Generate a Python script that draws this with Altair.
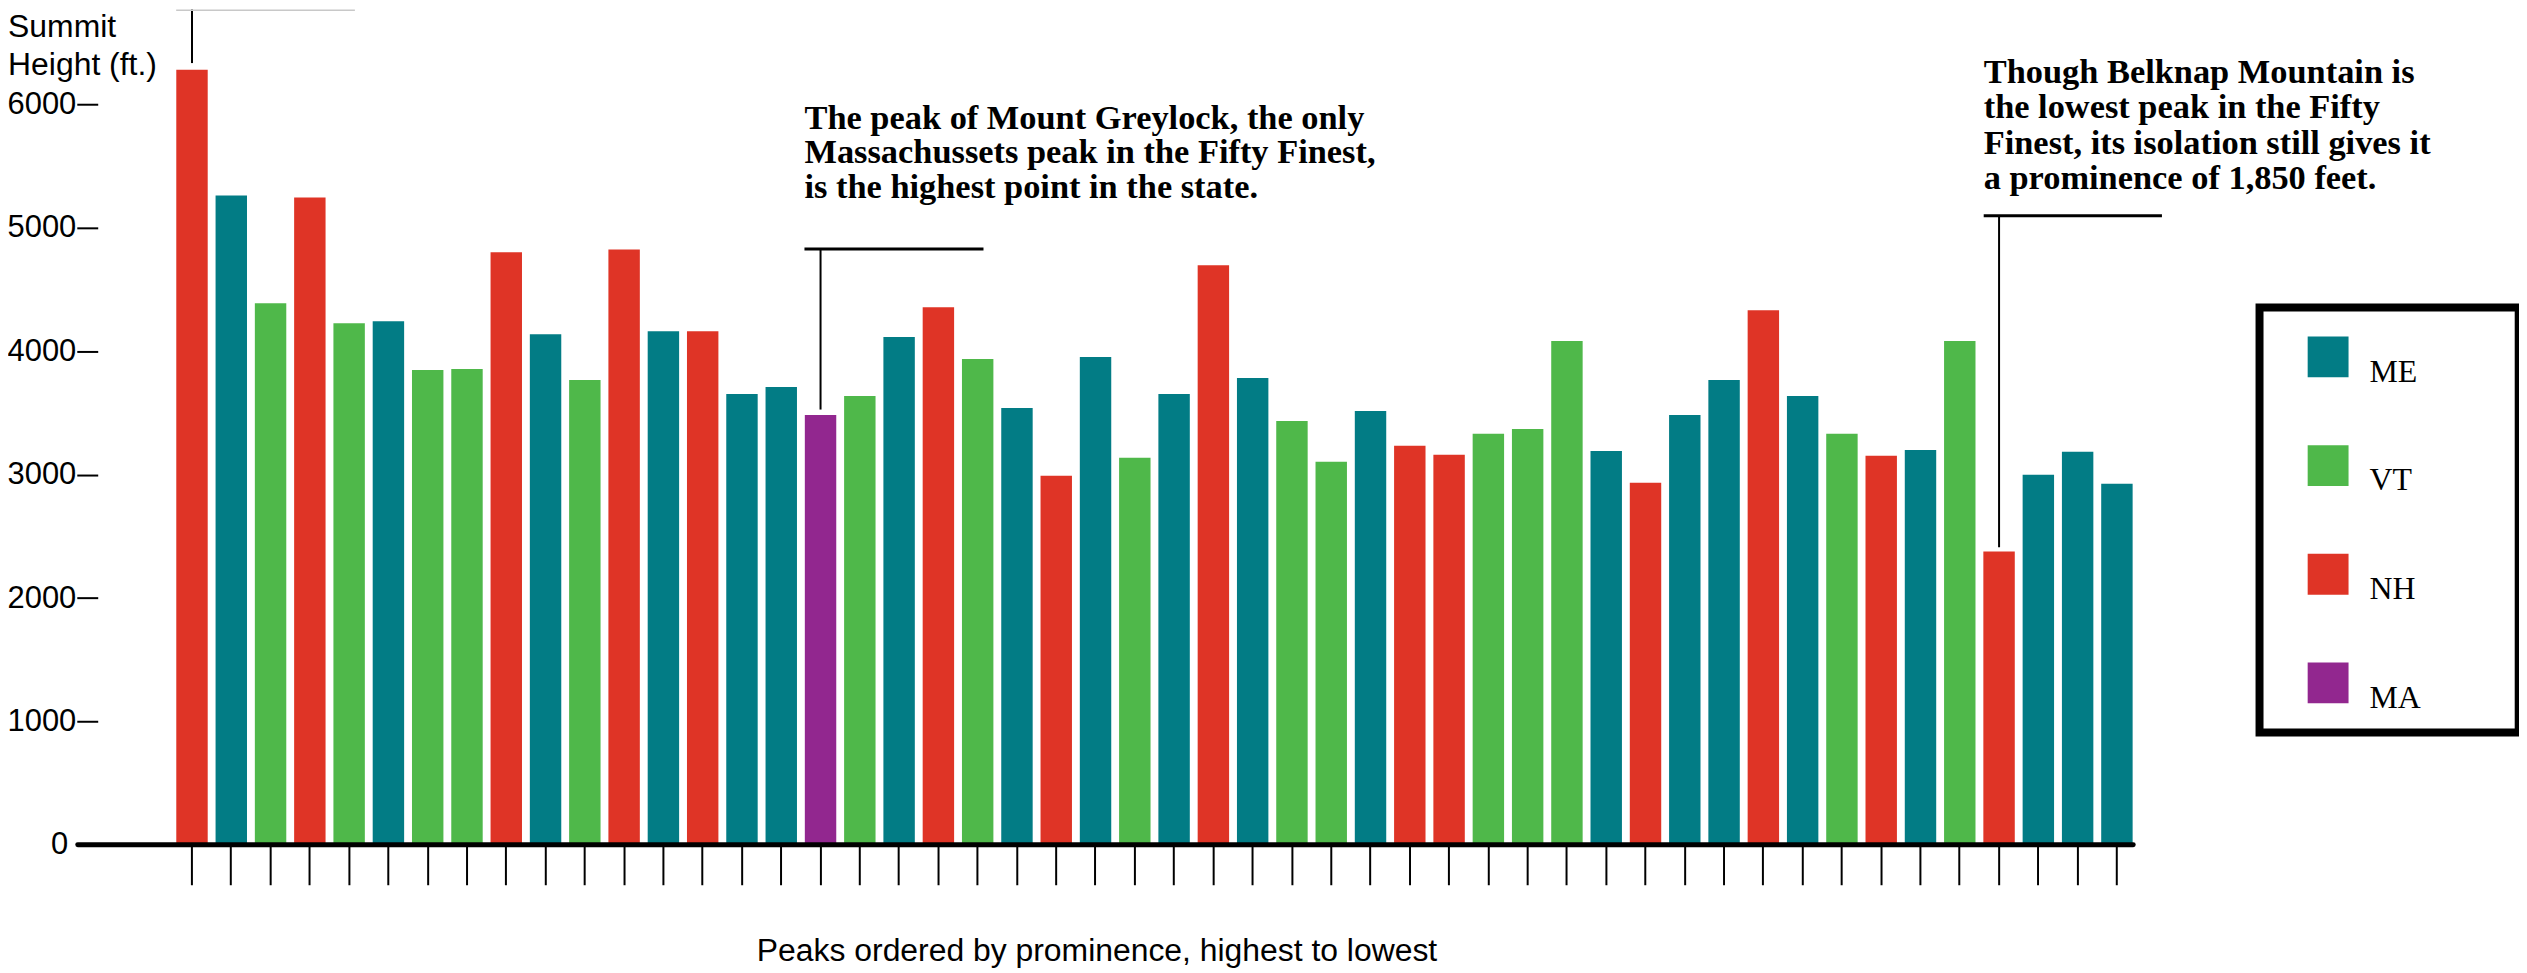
import altair as alt
import pandas as pd

# ---- data ----
ranks = list(range(1, 51))
states = ["NH", "ME", "VT", "NH", "VT", "ME", "VT", "VT", "NH", "ME",
          "VT", "NH", "ME", "NH", "ME", "ME", "MA", "VT", "ME", "NH",
          "VT", "ME", "NH", "ME", "VT", "ME", "NH", "ME", "VT", "VT",
          "ME", "NH", "NH", "VT", "VT", "VT", "ME", "NH", "ME", "ME",
          "NH", "ME", "VT", "NH", "ME", "VT", "NH", "ME", "ME", "ME"]
heights = [6281, 5263, 4390, 5247, 4228, 4244, 3848, 3856, 4802, 4139,
           3767, 4826, 4163, 4163, 3654, 3711, 3484, 3638, 4115, 4357,
           3937, 3541, 2991, 3953, 3137, 3654, 4697, 3783, 3436, 3104,
           3517, 3234, 3161, 3331, 3371, 4083, 3193, 2935, 3484, 3767,
           4333, 3638, 3331, 3153, 3201, 4083, 2377, 2999, 3185, 2926]
state_order = ["ME", "VT", "NH", "MA"]
state_colors = ["#027c85", "#4fb84a", "#df3426", "#92278f"]
y_ticks = [0, 1000, 2000, 3000, 4000, 5000, 6000]

greylock_text = ["The peak of Mount Greylock, the only",
                 "Massachussets peak in the Fifty Finest,",
                 "is the highest point in the state."]
belknap_text = ["Though Belknap Mountain is",
                "the lowest peak in the Fifty",
                "Finest, its isolation still gives it",
                "a prominence of 1,850 feet."]

df = pd.DataFrame({"rank": ranks, "state": states, "height": heights})

W, H = 2041.4, 838
PL, PT, PB = 90, 0, 124
PR = 2519 - PL - W
YMAX = 6770

sans = "Liberation Sans"
serif = "Liberation Serif"

xscale = alt.Scale(paddingInner=0.2, paddingOuter=1.0, align=1)
yscale = alt.Scale(domain=[0, YMAX], nice=False)

bars = alt.Chart(df).mark_bar().encode(
    x=alt.X("rank:O", scale=xscale,
            axis=alt.Axis(labels=False, domain=False, ticks=True, tickSize=40,
                          tickWidth=2, tickColor="black",
                          title="Peaks ordered by prominence, highest to lowest",
                          titleFont=sans, titleFontSize=32, titleFontWeight="normal",
                          titleColor="black", titleAlign="center",
                          titleBaseline="alphabetic", titleX=1002, titleY=116)),
    y=alt.Y("height:Q", scale=yscale,
            axis=alt.Axis(values=y_ticks, format="d", domain=False, grid=False,
                          ticks=True, tickSize=21, tickWidth=2, tickColor="black",
                          labelFont=sans, labelFontSize=31, labelColor="black",
                          labelPadding={"condition": {"test": "datum.value === 0",
                                                      "value": 9},
                                        "value": 1},
                          title=["Summit", "Height (ft.)"], titleAngle=0,
                          titleAlign="left", titleBaseline="alphabetic",
                          titleX=-90.4, titleY=27, titleFont=sans, titleFontSize=32,
                          titleFontWeight="normal", titleColor="black",
                          titleLineHeight=37.7)),
    color=alt.Color("state:N",
                    scale=alt.Scale(domain=state_order, range=state_colors),
                    legend=alt.Legend(title=None, orient="none", legendX=2217,
                                      legendY=328, padding=0, symbolType="square",
                                      symbolSize=1681, symbolStrokeWidth=0,
                                      symbolOpacity=1, labelFont=serif,
                                      labelFontSize=32, labelColor="black",
                                      labelOffset=21, labelBaseline="top",
                                      rowPadding=57)),
)

baseline = alt.Chart().mark_rule(color="black", strokeWidth=5, strokeCap="round").encode(
    x=alt.value(-20), x2=alt.value(2042), y=alt.datum(0))

# annotation leader lines
lead_top = alt.Chart().mark_rule(color="black", strokeWidth=2).encode(
    x=alt.datum(1, type="ordinal"), y=alt.datum(YMAX), y2=alt.datum(6336))
gray_top = alt.Chart().mark_rule(color="#c8c8c8", strokeWidth=1.5).encode(
    x=alt.value(78.7), x2=alt.value(258), y=alt.datum(YMAX - 5))
grey_h = alt.Chart().mark_rule(color="black", strokeWidth=3).encode(
    x=alt.value(709), x2=alt.value(888.6), y=alt.datum(4829))
grey_v = alt.Chart().mark_rule(color="black", strokeWidth=2).encode(
    x=alt.datum(17, type="ordinal"), y=alt.datum(4829), y2=alt.datum(3528))
belk_h = alt.Chart().mark_rule(color="black", strokeWidth=3).encode(
    x=alt.value(1892), x2=alt.value(2070.8), y=alt.datum(5098))
belk_v = alt.Chart().mark_rule(color="black", strokeWidth=2).encode(
    x=alt.datum(47, type="ordinal"), y=alt.datum(5098), y2=alt.datum(2413))

grey_txt = alt.Chart().mark_text(font=serif, fontSize=34.5, fontWeight="bold",
                                 align="left", baseline="alphabetic",
                                 lineHeight=34.7, color="black").encode(
    x=alt.value(709), y=alt.value(119.7), text=alt.value(greylock_text))
belk_txt = alt.Chart().mark_text(font=serif, fontSize=34.5, fontWeight="bold",
                                 align="left", baseline="alphabetic",
                                 lineHeight=35.5, color="black").encode(
    x=alt.value(1892), y=alt.value(73.7), text=alt.value(belknap_text))

legend_box = alt.Chart().mark_rect(fill="white", fillOpacity=0, stroke="black",
                                   strokeWidth=8).encode(
    x=alt.value(2168.7), x2=alt.value(2428.7), y=alt.value(299), y2=alt.value(725.3))

chart = alt.layer(
    bars, baseline, lead_top, gray_top, grey_h, grey_v, belk_h, belk_v,
    grey_txt, belk_txt, legend_box
).properties(
    width=W, height=H,
    autosize=alt.AutoSizeParams(type="none"),
    padding={"left": PL, "top": PT, "right": PR, "bottom": PB},
    background="white",
).configure_view(stroke=None)

chart.save("out.html", embed_options={"renderer": "svg", "actions": False})
